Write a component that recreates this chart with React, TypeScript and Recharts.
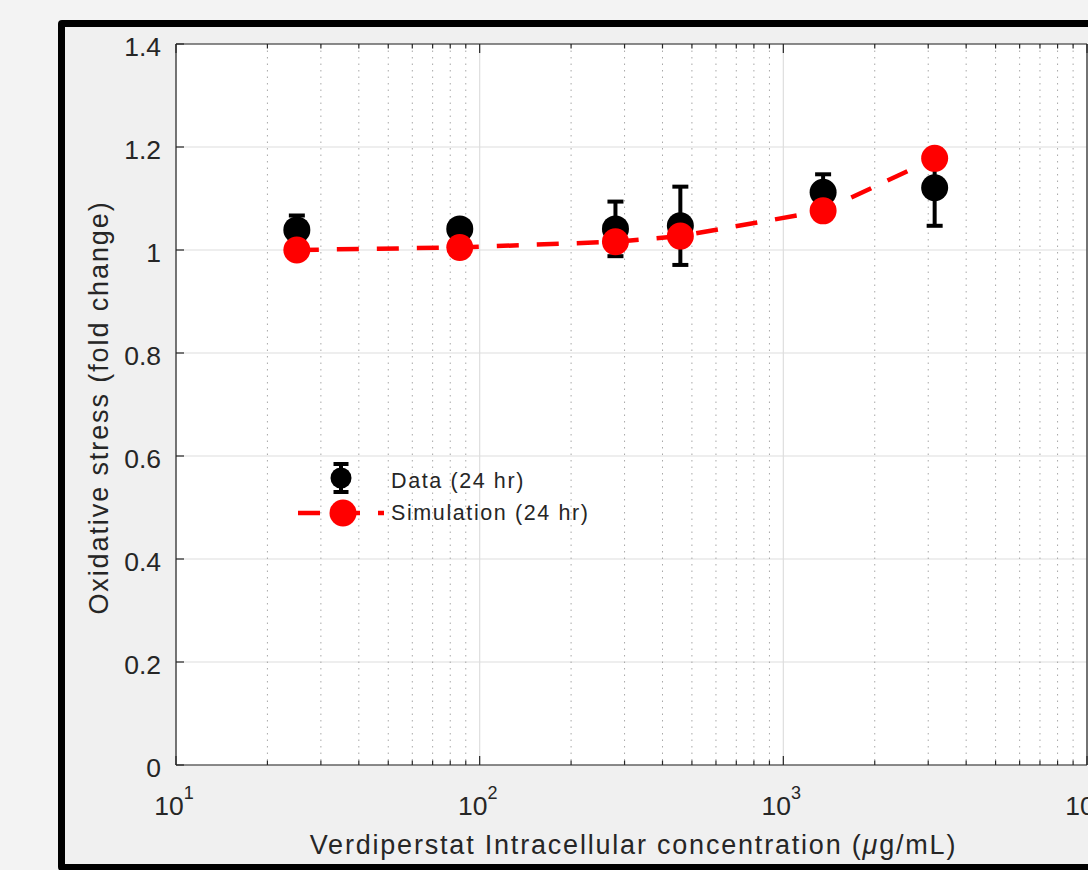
import {
  ComposedChart,
  Scatter,
  Line,
  ErrorBar,
  XAxis,
  YAxis,
  CartesianGrid,
  Legend,
  Label,
} from "recharts";

// Verdiperstat concentration (µg/mL), measured vs simulated fold change at 24 hr
const concentration = [25, 86, 280, 458, 1352, 3150];
const measured = [1.039, 1.041, 1.041, 1.047, 1.112, 1.121];
const measuredErr = [0.028, 0.015, 0.053, 0.076, 0.035, 0.074];
const simulated = [1.0, 1.005, 1.016, 1.027, 1.076, 1.178];

const yTicks = [0, 0.2, 0.4, 0.6, 0.8, 1, 1.2, 1.4];
const decades = [10, 100, 1000, 10000];
const minorSteps = [2, 3, 4, 5, 6, 7, 8, 9];
const minorTicks = decades.slice(0, 3).flatMap((d) => minorSteps.map((m) => m * d));

const rows = concentration.map((conc, i) => ({
  conc,
  data: measured[i],
  err: measuredErr[i],
  sim: simulated[i],
}));

const ink = "#262626";
const font = "'Liberation Sans', Arial, Helvetica, sans-serif";

const LeftTick = ({ x, y, payload }: any) => (
  <g>
    <line x1={x} y1={y} x2={x + 8} y2={y} stroke={ink} strokeWidth={1.2} />
    <text x={x - 15} y={y + 12} textAnchor="end" fontSize={26.5} fill={ink} fontFamily={font}>
      {`${payload.value}`}
    </text>
  </g>
);

const RightTick = ({ x, y }: any) => (
  <line x1={x} y1={y} x2={x - 8} y2={y} stroke={ink} strokeWidth={1.2} />
);

const BottomTick = ({ x, y, payload }: any) => {
  const major = decades.includes(payload.value);
  return (
    <g>
      <line x1={x} y1={y} x2={x} y2={y - (major ? 9 : 4.5)} stroke={ink} strokeWidth={1.2} />
      {major && (
        <text x={x - 2} y={y + 50} textAnchor="middle" fontSize={26.5} fill={ink} fontFamily={font}>
          10
          <tspan dy={-16} fontSize={18}>
            {Math.round(Math.log10(payload.value))}
          </tspan>
        </text>
      )}
    </g>
  );
};

const TopTick = ({ x, y, payload }: any) => {
  const major = decades.includes(payload.value);
  return <line x1={x} y1={y} x2={x} y2={y + (major ? 9 : 4.5)} stroke={ink} strokeWidth={1.2} />;
};

const YTitle = ({ viewBox }: any) => {
  const cx = viewBox.x + viewBox.width - 68;
  const cy = viewBox.y + viewBox.height / 2 + 3;
  return (
    <text
      x={cx}
      y={cy}
      transform={`rotate(-90 ${cx} ${cy})`}
      textAnchor="middle"
      fontSize={27}
      fill={ink}
      fontFamily={font}
      style={{ letterSpacing: "1.9px" }}
    >
      Oxidative stress (fold change)
    </text>
  );
};

const XTitle = ({ viewBox }: any) => (
  <text
    x={viewBox.x + viewBox.width / 2 + 2}
    y={viewBox.y + 89}
    textAnchor="middle"
    fontSize={27}
    fill={ink}
    fontFamily={font}
    style={{ letterSpacing: "1.8px" }}
  >
    Verdiperstat Intracellular concentration (<tspan fontStyle="italic">μ</tspan>g/mL)
  </text>
);

const renderLegend = () => (
  <svg width={320} height={80} style={{ display: "block" }}>
    <line x1={51} y1={9} x2={51} y2={37} stroke="#000" strokeWidth={4} />
    <line x1={43.5} y1={9} x2={58.5} y2={9} stroke="#000" strokeWidth={4} />
    <line x1={43.5} y1={37} x2={58.5} y2={37} stroke="#000" strokeWidth={4} />
    <circle cx={51} cy={23} r={10.5} fill="#000" />
    <line x1={8} y1={58} x2={94} y2={58} stroke="#ff0000" strokeWidth={4.5} strokeDasharray="22 18" />
    <circle cx={53} cy={58} r={13.5} fill="#ff0000" />
    <text x={101} y={32.7} fontSize={21.5} fill={ink} fontFamily={font} style={{ letterSpacing: "1.6px" }}>
      Data (24 hr)
    </text>
    <text x={101} y={65} fontSize={21.5} fill={ink} fontFamily={font} style={{ letterSpacing: "1.6px" }}>
      Simulation (24 hr)
    </text>
  </svg>
);

export default function App() {
  return (
    <div
      style={{
        position: "fixed",
        left: 0,
        top: 0,
        width: 1088,
        height: 870,
        overflow: "hidden",
        background: "#f3f3f3",
        fontFamily: font,
      }}
    >
      <div
        style={{
          position: "absolute",
          left: 58,
          top: 20,
          width: 1100,
          height: 837,
          border: "7px solid #000",
          borderRadius: 4,
          background: "#f0f0f0",
        }}
      />
      <div style={{ position: "absolute", left: 0, top: 0 }}>
        <ComposedChart
          width={1100}
          height={870}
          data={rows}
          margin={{ top: 43, right: 12, bottom: 104, left: 175 }}
        >
          <CartesianGrid
            stroke="#dedede"
            strokeWidth={1.2}
            fill="#ffffff"
            verticalValues={decades}
          />
          <CartesianGrid
            horizontal={false}
            stroke="#a8a8a8"
            strokeWidth={1}
            strokeDasharray="1.5 5"
            verticalValues={minorTicks}
          />
          <XAxis
            dataKey="conc"
            type="number"
            scale="log"
            domain={[10, 10000]}
            ticks={[...decades, ...minorTicks]}
            interval={0}
            height={1}
            tickSize={0}
            tickMargin={0}
            tickLine={false}
            tick={BottomTick}
            axisLine={{ stroke: ink, strokeWidth: 1.2 }}
            allowDataOverflow
          >
            <Label content={XTitle} />
          </XAxis>
          <XAxis
            xAxisId="top"
            orientation="top"
            dataKey="conc"
            type="number"
            scale="log"
            domain={[10, 10000]}
            ticks={[...decades, ...minorTicks]}
            interval={0}
            height={1}
            tickSize={0}
            tickMargin={0}
            tickLine={false}
            tick={TopTick}
            axisLine={{ stroke: ink, strokeWidth: 1.2 }}
            allowDataOverflow
          />
          <YAxis
            type="number"
            domain={[0, 1.4]}
            ticks={yTicks}
            interval={0}
            width={1}
            tickSize={0}
            tickMargin={0}
            tickLine={false}
            tick={LeftTick}
            axisLine={{ stroke: ink, strokeWidth: 1.2 }}
          >
            <Label content={YTitle} />
          </YAxis>
          <YAxis
            yAxisId="right"
            orientation="right"
            type="number"
            domain={[0, 1.4]}
            ticks={yTicks}
            interval={0}
            width={1}
            tickSize={0}
            tickMargin={0}
            tickLine={false}
            tick={RightTick}
            axisLine={{ stroke: ink, strokeWidth: 1.2 }}
          />
          <Scatter
            dataKey="data"
            fill="#000"
            isAnimationActive={false}
            shape={(p: any) => <circle cx={p.cx} cy={p.cy} r={13.5} fill="#000" />}
          >
            <ErrorBar dataKey="err" direction="y" width={8} strokeWidth={4} stroke="#000" />
          </Scatter>
          <Line
            dataKey="sim"
            type="linear"
            stroke="#ff0000"
            strokeWidth={4.5}
            strokeDasharray="22 18"
            dot={{ r: 13.5, fill: "#ff0000", stroke: "none" }}
            activeDot={false}
            isAnimationActive={false}
          />
          <Legend
            content={renderLegend}
            layout="vertical"
            align="center"
            verticalAlign="middle"
            wrapperStyle={{ left: 290, top: 455, width: 320, height: 80 }}
          />
        </ComposedChart>
      </div>
    </div>
  );
}
